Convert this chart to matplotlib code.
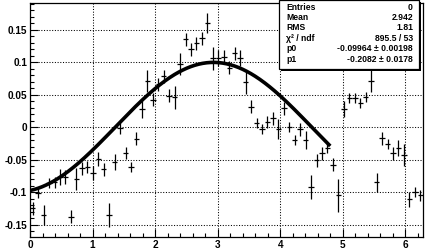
import numpy as np
import matplotlib
matplotlib.use("Agg")
import matplotlib.pyplot as plt
from matplotlib.patches import Rectangle
from matplotlib.ticker import MultipleLocator

# ---- data ----
nbins = 72
xmin_hist, xmax_hist = 0.0, 2 * np.pi
y_values = [-0.125, -0.101, -0.135, -0.086, -0.085, -0.077, -0.077, -0.138, -0.080, -0.063,
            -0.061, -0.071, -0.049, -0.065, -0.135, -0.054, -0.002, -0.040, -0.061, -0.018,
            0.028, 0.071, 0.042, 0.066, 0.078, 0.048, 0.046, 0.097, 0.135, 0.120,
            0.129, 0.137, 0.160, 0.106, 0.106, 0.108, 0.091, 0.114, 0.106, 0.069,
            0.031, 0.006, -0.003, 0.008, 0.014, -0.003, 0.029, 0.000, -0.020, -0.003,
            -0.020, -0.092, -0.051, -0.040, -0.032, -0.058, -0.105, 0.028, 0.045, 0.045,
            0.037, 0.046, 0.071, -0.085, -0.017, -0.026, -0.040, -0.032, -0.043, -0.111,
            -0.100, -0.105]
y_errors = [0.010, 0.008, 0.015, 0.008, 0.008, 0.012, 0.011, 0.010, 0.017, 0.010,
            0.009, 0.011, 0.010, 0.010, 0.018, 0.012, 0.009, 0.009, 0.008, 0.010,
            0.014, 0.017, 0.010, 0.010, 0.010, 0.010, 0.018, 0.017, 0.010, 0.010,
            0.010, 0.010, 0.015, 0.018, 0.012, 0.010, 0.010, 0.010, 0.012, 0.018,
            0.010, 0.008, 0.008, 0.009, 0.010, 0.016, 0.010, 0.008, 0.008, 0.010,
            0.014, 0.019, 0.010, 0.010, 0.008, 0.010, 0.026, 0.012, 0.008, 0.008,
            0.008, 0.008, 0.017, 0.015, 0.010, 0.008, 0.010, 0.012, 0.017, 0.012,
            0.008, 0.008]
fit_p0, fit_p1 = -0.09964, -0.2082
fit_range = (0.0, 4.8)
x_ticks = [0, 1, 2, 3, 4, 5, 6]
y_ticks = [-0.15, -0.1, -0.05, 0, 0.05, 0.1, 0.15]
y_tick_labels = ["-0.15", "-0.1", "-0.05", "0", "0.05", "0.1", "0.15"]
stats_labels = ["Entries", "Mean", "RMS", "\u03c7\u00b2 / ndf", "p0", "p1"]
stats_values = ["0", "2.942", "1.81", "895.5 / 53", "-0.09964 \u00b1 0.00198", "-0.2082 \u00b1 0.0178"]

W, H = 426, 249
fig = plt.figure(figsize=(W / 100, H / 100), dpi=100)
fig.patch.set_facecolor("white")
ax = fig.add_axes([30 / W, 12 / H, 393 / W, 234 / H])

edges = np.linspace(xmin_hist, xmax_hist, nbins + 1)
centers = 0.5 * (edges[:-1] + edges[1:])
half_w = 0.5 * (edges[1] - edges[0])

ax.errorbar(centers, y_values, xerr=half_w, yerr=y_errors, fmt="none",
            ecolor="black", elinewidth=0.9, capsize=0, zorder=3)

xf = np.linspace(fit_range[0], fit_range[1], 300)
yf = fit_p0 * np.cos(xf - fit_p1)
ax.plot(xf, yf, color="black", lw=2.6, zorder=4, solid_capstyle="butt")

ax.set_xlim(xmin_hist, xmax_hist)
ax.set_ylim(-0.169, 0.191)
ax.set_xticks(x_ticks)
ax.set_yticks(y_ticks)
ax.set_yticklabels(y_tick_labels)
ax.xaxis.set_minor_locator(MultipleLocator(0.2))
ax.yaxis.set_minor_locator(MultipleLocator(0.01))
ax.tick_params(which="both", direction="in", top=False, right=False, colors="black",
               width=0.8)
ax.tick_params(which="major", length=6)
ax.tick_params(which="minor", length=3)
ax.tick_params(axis="x", pad=2)
ax.tick_params(axis="y", pad=2)
for lab in ax.get_xticklabels() + ax.get_yticklabels():
    lab.set_fontfamily("Liberation Sans")
    lab.set_fontweight("bold")
    lab.set_fontsize(7.2)
ax.grid(True, which="major", color="black", linestyle=(0, (1, 1.6)), linewidth=0.75)
for s in ax.spines.values():
    s.set_linewidth(0.9)

# stats box
bx0, by_top, bx1, by_bot = 279, 0, 419, 69
shadow = Rectangle(((bx0 + 2) / W, 1 - (by_bot + 2) / H), (bx1 - bx0) / W, (by_bot - by_top) / H,
                   transform=fig.transFigure, facecolor="black", edgecolor="none", zorder=9)
box = Rectangle((bx0 / W, 1 - by_bot / H), (bx1 - bx0) / W, (by_bot - by_top) / H,
                transform=fig.transFigure, facecolor="white", edgecolor="black",
                linewidth=0.9, zorder=10)
fig.add_artist(shadow)
fig.add_artist(box)
row_y = np.linspace(7, 59, len(stats_labels))
for lbl, val, ry in zip(stats_labels, stats_values, row_y):
    fig.text(286 / W, 1 - ry / H, lbl, ha="left", va="center", fontsize=6.2,
             fontweight="bold", family="Liberation Sans", zorder=11)
    fig.text(413 / W, 1 - ry / H, val, ha="right", va="center", fontsize=6.2,
             fontweight="bold", family="Liberation Sans", zorder=11)

fig.savefig("out.png", dpi=100)
